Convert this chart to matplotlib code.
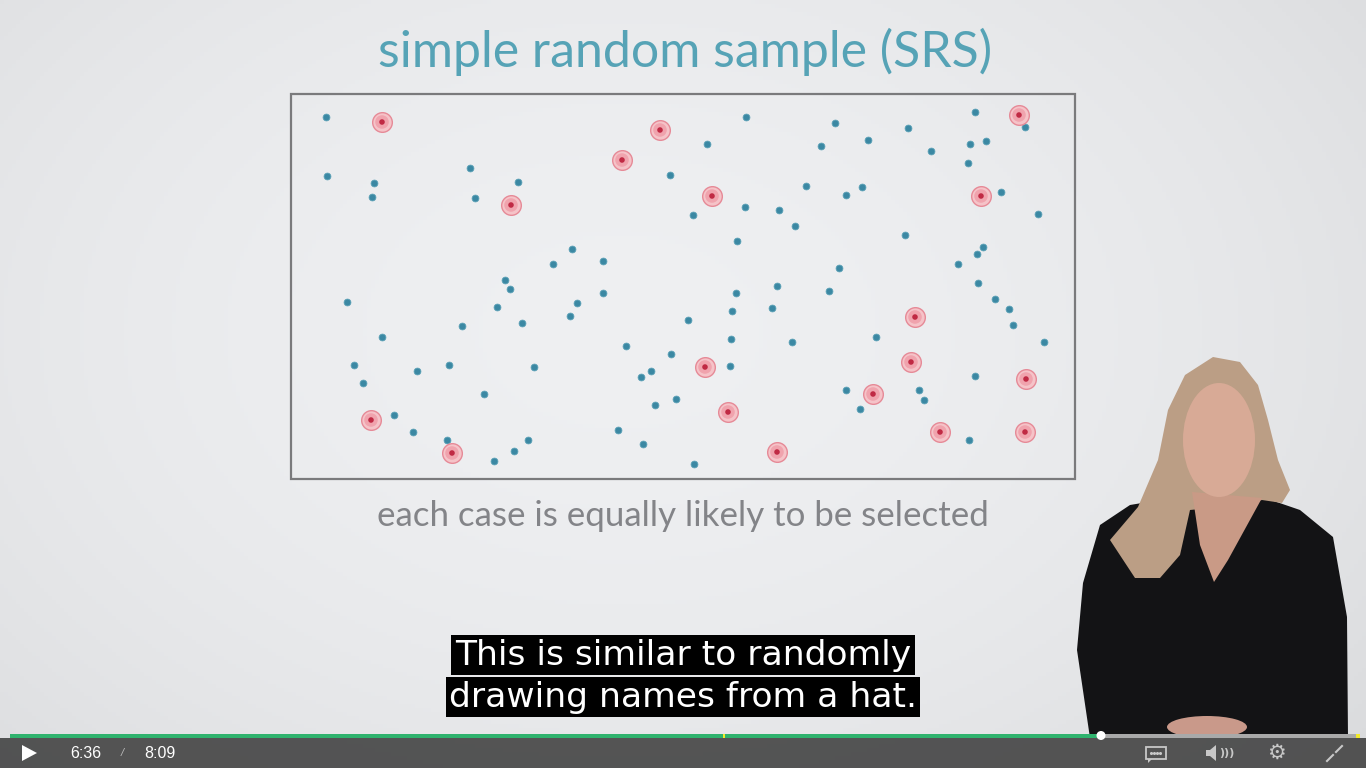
import numpy as np
import matplotlib
matplotlib.use("Agg")
import matplotlib.pyplot as plt
from matplotlib.patches import Rectangle, Polygon, Ellipse, Circle

# ── data (pixel coords) ────────────────────────────────────
BLUE_X = [326, 327, 374, 372, 470, 475, 518, 670, 693, 572, 553, 603, 505, 510, 603,
          347, 577, 497, 570, 522, 462, 688, 382, 626, 671, 354, 449, 417, 534, 651,
          641, 363, 484, 676, 655, 394, 413, 618, 447, 528, 514, 643, 494, 694,
          746, 835, 975, 1025, 908, 707, 821, 868, 970, 986, 931, 968, 806, 862,
          846, 1001, 745, 779, 1038, 795, 737, 905, 983, 977, 958, 839, 978, 777,
          736, 829, 995, 1009, 772, 732, 1013, 731, 792, 876, 1044, 730, 975, 846,
          919, 924, 860, 969]
BLUE_Y = [117, 176, 183, 197, 168, 198, 182, 175, 215, 249, 264, 261, 280, 289, 293,
          302, 303, 307, 316, 323, 326, 320, 337, 346, 354, 365, 365, 371, 367, 371,
          377, 383, 394, 399, 405, 415, 432, 430, 440, 440, 451, 444, 461, 464,
          117, 123, 112, 127, 128, 144, 146, 140, 144, 141, 151, 163, 186, 187,
          195, 192, 207, 210, 214, 226, 241, 235, 247, 254, 264, 268, 283, 286,
          293, 291, 299, 309, 308, 311, 325, 339, 342, 337, 342, 366, 376, 390,
          390, 400, 409, 440]
RED_X = [382, 660, 622, 511, 712, 981, 1019, 915, 911, 705, 1026, 873, 728, 371, 452,
         777, 940, 1025]
RED_Y = [122, 130, 160, 205, 196, 196, 115, 317, 362, 367, 379, 394, 412, 420, 453,
         452, 432, 432]

TITLE = "simple random sample (SRS)"
SUBTITLE = "each case is equally likely to be selected"
CAPTION = ["This is similar to randomly", "drawing names from a hat."]
T_NOW, T_END = "6:36", "8:09"
PROGRESS = 1100 / 1366

W, H = 1366, 768
fig = plt.figure(figsize=(W / 100, H / 100), dpi=100)
ax = fig.add_axes([0, 0, 1, 1])
ax.set_xlim(0, W); ax.set_ylim(H, 0); ax.axis("off")

# background with soft vignette
yy, xx = np.mgrid[0:H:4, 0:W:4]
r = np.sqrt(((xx - 620) / 900) ** 2 + ((yy - 330) / 620) ** 2)
bg = np.clip(0.935 - 0.07 * r ** 2, 0.80, 0.94)
img = np.dstack([bg, bg + 0.004, bg + 0.012])
ax.imshow(np.clip(img, 0, 1), extent=[0, W, H, 0], zorder=0, aspect="auto")

# title / subtitle
ax.text(685, 52, TITLE, color="#56a3b6", fontsize=36, family="Lato",
        ha="center", va="center", zorder=2)
ax.text(683, 516, SUBTITLE, color="#838488", fontsize=25.1, family="Lato",
        ha="center", va="center", zorder=2)

# frame + dots
ax.add_patch(Rectangle((291, 94), 784, 385, fill=False, ec="#7a7a7c", lw=1.6, zorder=2))
ax.scatter(BLUE_X, BLUE_Y, s=24, c="#3b88a3", edgecolors="#5aa0b6", linewidths=0.6, zorder=3)
ax.scatter(RED_X, RED_Y, s=200, c="#f5c3c8", edgecolors="#e68a97", linewidths=1.0, zorder=3)
ax.scatter(RED_X, RED_Y, s=95, c="#f0a3ad", edgecolors="none", zorder=3)
ax.scatter(RED_X, RED_Y, s=16, c="#c02a44", edgecolors="none", zorder=4)

# presenter (rough silhouette)
ax.add_patch(Polygon([(1090, 738), (1077, 650), (1083, 583), (1100, 525), (1130, 505),
                      (1190, 495), (1265, 498), (1300, 510), (1333, 537), (1347, 617),
                      (1348, 738)], closed=True, fc="#131315", ec="none", zorder=5))
ax.add_patch(Polygon([(1213, 357), (1240, 362), (1258, 385), (1268, 420), (1278, 460),
                      (1290, 490), (1282, 503), (1262, 500), (1240, 505), (1190, 510),
                      (1180, 555), (1160, 578), (1135, 578), (1110, 540), (1138, 507),
                      (1158, 460), (1168, 410), (1185, 375)],
                     closed=True, fc="#bb9e85", ec="none", zorder=6))
ax.add_patch(Polygon([(1192, 492), (1262, 498), (1228, 560), (1214, 582), (1200, 545)],
                     closed=True, fc="#c99a86", ec="none", zorder=7))
ax.add_patch(Ellipse((1219, 440), 72, 114, fc="#d8aa96", ec="none", zorder=7))
ax.add_patch(Ellipse((1207, 727), 80, 22, fc="#c9998a", ec="none", zorder=7))

# caption
for i, line in enumerate(CAPTION):
    ax.text(683, 655 + i * 42, line, color="white", fontsize=24.8, family="DejaVu Sans",
            ha="center", va="center", zorder=9,
            bbox=dict(boxstyle="square,pad=0.1", fc="black", ec="none"))

# player bar
ax.add_patch(Rectangle((0, 738), W, 30, fc="#3a3a3a", alpha=0.85, ec="none", zorder=10))
ax.add_patch(Rectangle((10, 733.5), 1350, 4, fc="#a9a9a9", ec="none", zorder=11))
ax.add_patch(Rectangle((10, 733.5), PROGRESS * W - 10, 4, fc="#2fb36e", ec="none", zorder=12))
ax.add_patch(Rectangle((723, 733.5), 2, 4, fc="#f2ea2a", ec="none", zorder=13))
ax.add_patch(Rectangle((1356, 733.5), 4, 4, fc="#f2ea2a", ec="none", zorder=13))
ax.add_patch(Circle((PROGRESS * W + 1, 735.5), 4.5, fc="white", ec="none", zorder=14))
ax.add_patch(Polygon([(22, 745), (22, 761), (37, 753)], closed=True, fc="white", zorder=12))
ax.text(70, 753, T_NOW, color="white", fontsize=11.5, family="Liberation Sans",
        va="center", zorder=12)
ax.text(121, 753, "/", color="#bbbbbb", fontsize=8, family="Liberation Sans",
        va="center", zorder=12, style="italic")
ax.text(144, 753, T_END, color="white", fontsize=11.5, family="Liberation Sans",
        va="center", zorder=12)
# captions icon
ax.add_patch(Rectangle((1146, 747), 20, 12, fill=False, ec="#c8c8c8", lw=1.3, zorder=12))
ax.add_patch(Polygon([(1148, 759), (1148, 763), (1152, 759)], closed=True, fc="#c8c8c8", zorder=12))
ax.scatter([1151, 1154, 1157, 1160], [753] * 4, s=1.5, c="#c8c8c8", zorder=13)
# speaker
ax.add_patch(Polygon([(1206, 750), (1210, 750), (1216, 745), (1216, 761), (1210, 756),
                      (1206, 756)], closed=True, fc="#c8c8c8", zorder=12))
ax.text(1219, 753, ")))", color="#c8c8c8", fontsize=8, va="center", zorder=12,
        family="DejaVu Sans", weight="bold")
ax.text(1276, 753, "\u2699", color="#c8c8c8", fontsize=15, ha="center", va="center",
        family="DejaVu Sans", zorder=12)
# collapse
ax.plot([1327, 1333], [761, 755], c="#c8c8c8", lw=1.5, zorder=12)
ax.plot([1336, 1342], [752, 746], c="#c8c8c8", lw=1.5, zorder=12)

fig.savefig("out.png", dpi=100)
